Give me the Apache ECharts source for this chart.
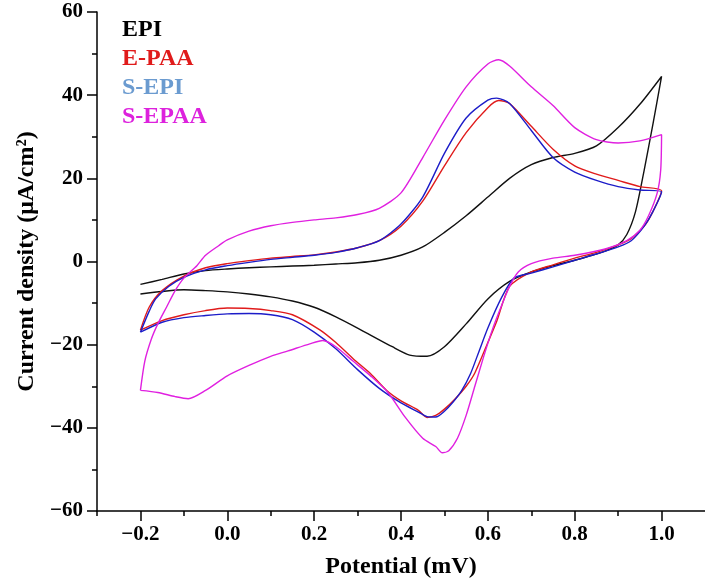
<!DOCTYPE html>
<html><head><meta charset="utf-8">
<script src="https://cdn.jsdelivr.net/npm/echarts@6/dist/echarts.min.js"></script>
<style>html,body{margin:0;padding:0;background:#fff}#c{width:705px;height:584px}</style>
</head><body><div id="c"></div>
<script>
const seriesNames = ['EPI','E-PAA','S-EPI','S-EPAA'];
const lineColors = ['#111111','#e01b1b','#1c1cc8','#e020e0'];
const legendColors = ['#000000','#e01b1b','#6b9bd0','#dd22dd'];
const xMajorTicks = [-0.2,0,0.2,0.4,0.6,0.8,1.0];
const xMinorTicks = [-0.3,-0.1,0.1,0.3,0.5,0.7,0.9];

const EPI = [[-0.2,-5.5],[-0.15,-4.3],[-0.1,-3],[-0.05,-2.2],[0,-1.8],[0.05,-1.5],[0.1,-1.3],[0.15,-1.1],[0.2,-0.9],[0.25,-0.6],[0.3,-0.3],[0.35,0.3],[0.4,1.5],[0.45,3.5],[0.5,7],[0.55,11],[0.6,15.5],[0.65,20],[0.7,23.3],[0.75,25],[0.8,26],[0.85,27.8],[0.9,32.2],[0.95,37.8],[1.0,44.5],
 [0.98,33],[0.96,22],[0.94,12],[0.92,6.5],[0.9,4],[0.87,2.5],[0.83,1.2],[0.8,0.3],[0.75,-1],[0.7,-2.5],[0.65,-4.8],[0.6,-9],[0.55,-15],[0.5,-20.5],[0.46,-22.8],[0.42,-22.5],[0.38,-20.5],[0.3,-16],[0.25,-13.3],[0.2,-11],[0.15,-9.5],[0.1,-8.5],[0.05,-7.8],[0,-7.3],[-0.05,-7],[-0.1,-6.8],[-0.15,-7.2],[-0.2,-7.8]];

const EPAA = [[-0.2,-16.5],[-0.18,-11],[-0.15,-7],[-0.1,-3.5],[-0.05,-1.5],[0,-0.5],[0.05,0.2],[0.1,0.8],[0.15,1.2],[0.2,1.6],[0.25,2.3],[0.3,3.3],[0.35,5],[0.4,8.5],[0.45,14.5],[0.5,23],[0.55,31],[0.6,37],[0.625,38.7],[0.65,38],[0.7,32.5],[0.75,27],[0.8,23],[0.85,21],[0.9,19.5],[0.95,18],[1.0,17],
 [0.98,12],[0.96,8.5],[0.93,5.5],[0.9,4],[0.85,2.2],[0.8,0.8],[0.75,-0.8],[0.7,-2.5],[0.65,-6],[0.62,-14.5],[0.6,-19.5],[0.57,-26.8],[0.55,-30],[0.525,-33],[0.5,-35.5],[0.48,-37],[0.46,-37.5],[0.44,-35.8],[0.4,-33.5],[0.367,-31],[0.33,-27],[0.291,-23.5],[0.25,-19.5],[0.214,-16.5],[0.15,-12.8],[0.1,-11.8],[0.05,-11.3],[0,-11.2],[-0.05,-11.8],[-0.1,-12.8],[-0.15,-14.2],[-0.2,-16.5]];

const SEPI = [[-0.2,-17],[-0.18,-12],[-0.165,-9],[-0.135,-6],[-0.1,-3.8],[-0.05,-2],[0,-1],[0.05,-0.2],[0.1,0.5],[0.15,1],[0.2,1.5],[0.25,2.2],[0.3,3.3],[0.35,5],[0.4,9],[0.45,15.5],[0.5,26],[0.55,34.5],[0.6,38.8],[0.62,39.3],[0.65,38],[0.7,31.5],[0.75,25],[0.8,21.5],[0.85,19.5],[0.9,18],[0.95,17.2],[1.0,16.8],
 [0.98,12],[0.96,8.5],[0.93,5],[0.9,3.5],[0.85,1.8],[0.8,0.3],[0.75,-1.3],[0.7,-2.8],[0.66,-4],[0.63,-9],[0.6,-16],[0.58,-21.5],[0.56,-27],[0.54,-31],[0.52,-33.8],[0.5,-36],[0.48,-37.4],[0.46,-37.3],[0.44,-36.2],[0.4,-34],[0.35,-30.5],[0.3,-26],[0.25,-21],[0.2,-17],[0.15,-14],[0.1,-12.8],[0.05,-12.5],[0,-12.6],[-0.05,-13],[-0.1,-13.5],[-0.15,-14.6],[-0.2,-17]];

const SEPAA = [[-0.2,-31],[-0.19,-24],[-0.175,-18.7],[-0.16,-15],[-0.14,-11],[-0.12,-7],[-0.1,-4],[-0.07,-1],[-0.05,1.5],[-0.02,3.8],[0,5.2],[0.05,7.3],[0.1,8.6],[0.15,9.4],[0.2,10],[0.25,10.5],[0.3,11.3],[0.35,12.8],[0.4,16.5],[0.45,25],[0.5,34],[0.55,42],[0.6,47.5],[0.625,48.5],[0.65,47],[0.7,42],[0.75,37.5],[0.8,32.2],[0.85,29.3],[0.9,28.5],[0.95,29],[1.0,30.5],
 [0.998,22],[0.99,16.5],[0.97,11],[0.95,7.5],[0.92,5],[0.87,3],[0.8,1.5],[0.75,0.8],[0.7,-0.5],[0.67,-2.5],[0.65,-6],[0.63,-11],[0.61,-16.5],[0.59,-23],[0.57,-30],[0.55,-37],[0.53,-42.5],[0.51,-45.5],[0.495,-46],[0.48,-44.5],[0.45,-42.5],[0.41,-37.5],[0.37,-31.5],[0.33,-27.5],[0.29,-24],[0.25,-20.5],[0.22,-19],[0.19,-19.8],[0.14,-21.5],[0.1,-22.8],[0.05,-25],[0,-27.5],[-0.05,-31],[-0.09,-33],[-0.12,-32.5],[-0.16,-31.5],[-0.2,-31]];

const dataSets = [EPI, EPAA, SEPI, SEPAA];
const FONT = '"Liberation Serif", "Times New Roman", serif';
const fmt = (v, d) => (v < 0 ? '\u2212' : '') + Math.abs(v).toFixed(d);

const chart = echarts.init(document.getElementById('c'), null, {renderer: 'canvas'});
chart.setOption({
  animation: false,
  backgroundColor: '#fff',
  grid: {left: 97, top: 12, width: 614, height: 500, containLabel: false},
  legend: {
    orient: 'vertical', left: 112, top: 13, itemWidth: 0, itemHeight: 0, itemGap: 5,
    icon: 'rect', selectedMode: false,
    textStyle: {fontFamily: FONT, fontWeight: 'bold', fontSize: 24},
    data: seriesNames.map((n, i) => ({name: n, textStyle: {color: legendColors[i]}}))
  },
  xAxis: [{
    type: 'value', min: -0.3, max: 1.1,
    name: 'Potential (mV)', nameLocation: 'middle', nameGap: 44,
    nameTextStyle: {fontFamily: FONT, fontWeight: 'bold', fontSize: 24, color: '#000'},
    axisLine: {show: true, onZero: false, lineStyle: {color: '#000', width: 1.5}},
    axisTick: {show: true, inside: false, length: 10, customValues: xMajorTicks, lineStyle: {color: '#000', width: 1.5}},
    axisLabel: {show: true, margin: 13, customValues: xMajorTicks, formatter: v => fmt(v, 1),
      fontFamily: FONT, fontWeight: 'bold', fontSize: 21, color: '#000'},
    splitLine: {show: false}
  }, {
    type: 'value', min: -0.3, max: 1.1, position: 'bottom',
    axisLine: {show: false, onZero: false},
    axisTick: {show: true, inside: false, length: 5, customValues: xMinorTicks, lineStyle: {color: '#000', width: 1.5}},
    axisLabel: {show: false},
    splitLine: {show: false}
  }],
  yAxis: {
    type: 'value', min: -60, max: 60, interval: 20,
    name: 'Current density (\u03bcA/cm\u00b2)', nameLocation: 'middle', nameGap: 55,
    nameTextStyle: {fontFamily: FONT, fontWeight: 'bold', fontSize: 24, color: '#000'},
    axisLine: {show: true, onZero: false, lineStyle: {color: '#000', width: 1.5}},
    axisTick: {show: true, inside: false, length: 10, lineStyle: {color: '#000', width: 1.5}},
    minorTick: {show: true, splitNumber: 2, length: 5, lineStyle: {color: '#000', width: 1.5}},
    axisLabel: {margin: 14, formatter: v => fmt(v, 0), fontFamily: FONT, fontWeight: 'bold', fontSize: 21, color: '#000'},
    splitLine: {show: false}
  },
  series: dataSets.map((d, i) => ({
    name: seriesNames[i], type: 'line', data: d, xAxisIndex: 0,
    showSymbol: false, symbol: 'none', smooth: 0.25,
    color: lineColors[i],
    lineStyle: {color: lineColors[i], width: 1.4}
  }))
});
</script></body></html>
